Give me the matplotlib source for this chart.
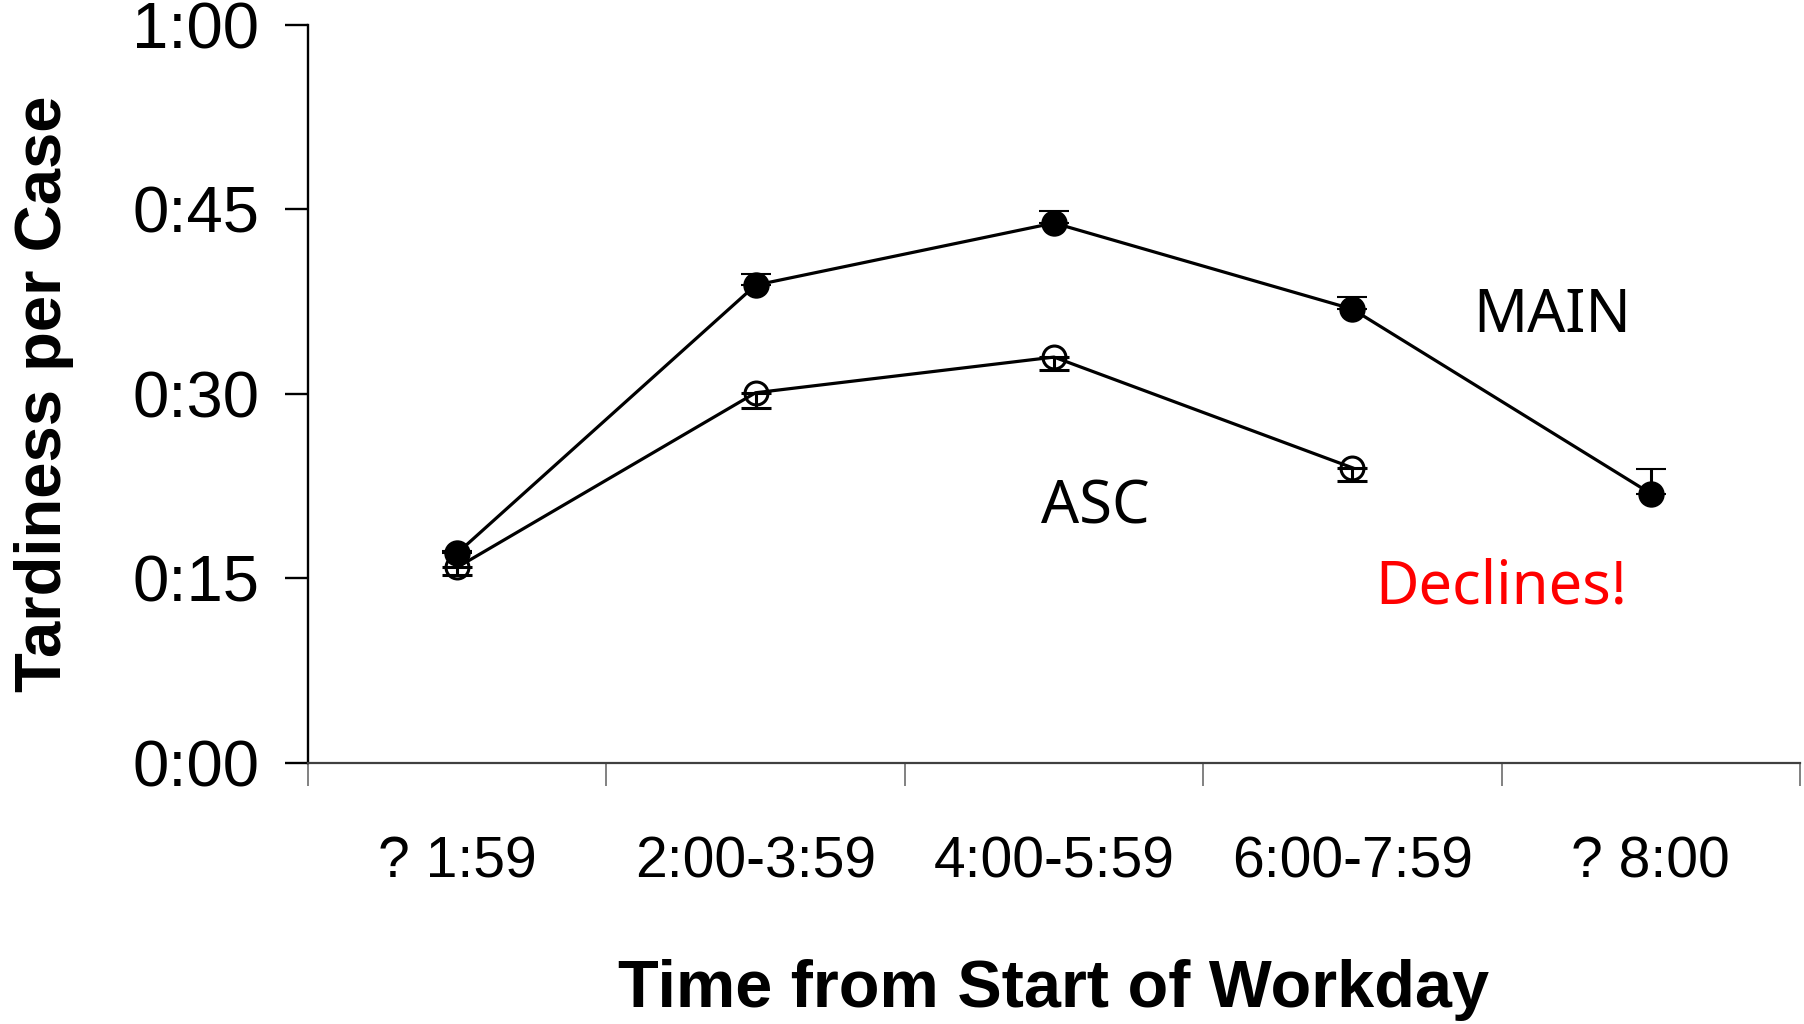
import matplotlib
matplotlib.use("Agg")
import matplotlib.pyplot as plt
from matplotlib.ticker import FuncFormatter, FixedLocator
import numpy as np

categories = ["? 1:59", "2:00-3:59", "4:00-5:59", "6:00-7:59", "? 8:00"]
main_vals = [17.05, 38.85, 43.9, 36.9, 21.9]
main_err_up = [0.15, 0.9, 1.0, 1.0, 2.0]
asc_vals = [15.9, 30.1, 33.0, 24.0]
asc_err_down = [0.65, 1.2, 1.05, 1.1]
y_ticks = [0, 15, 30, 45, 60]

fig = plt.figure(figsize=(18.04, 10.24), dpi=100)
ax = fig.add_axes([0.1707, 0.2549, 0.8271, 0.7207])

x_main = np.arange(len(main_vals))
x_asc = np.arange(len(asc_vals))

ax.errorbar(x_main, main_vals, yerr=[np.zeros(len(main_err_up)), main_err_up],
            fmt='-o', color='black', mfc='black', mec='black', ms=17.5, mew=1.5,
            lw=2.3, elinewidth=2.2, capsize=10.5, capthick=2.5, zorder=3)
ax.errorbar(x_asc, asc_vals, yerr=[asc_err_down, np.zeros(len(asc_err_down))],
            fmt='-o', color='black', mfc='none', mec='black', mew=2.2, ms=16.5,
            lw=2.3, elinewidth=2.2, capsize=10.5, capthick=2.5, zorder=3)

ax.set_xlim(-0.5, len(categories) - 0.5)
ax.set_ylim(0, 60)

ax.spines['top'].set_visible(False)
ax.spines['right'].set_visible(False)
ax.spines['left'].set_linewidth(1.7)
ax.spines['bottom'].set_linewidth(1.6)
ax.spines['bottom'].set_color('#404040')

ax.yaxis.set_major_locator(FixedLocator(y_ticks))
ax.yaxis.set_major_formatter(FuncFormatter(lambda v, p: f"{int(v)//60}:{int(v)%60:02d}"))
ax.tick_params(axis='y', direction='out', length=16.5, width=1.7, pad=18.5, labelsize=47)

ax.set_xticks(np.arange(len(categories)))
ax.set_xticklabels(categories)
ax.tick_params(axis='x', which='major', length=0, pad=52, labelsize=41)
ax.set_xticks(np.arange(len(categories) + 1) - 0.5, minor=True)
ax.tick_params(axis='x', which='minor', direction='out', length=16.5, width=1.3, color='#777777')

for lbl in ax.get_xticklabels() + ax.get_yticklabels():
    lbl.set_family('Liberation Sans')

ax.set_ylabel("Tardiness per Case", fontsize=47, fontweight='bold',
              family='Liberation Sans', labelpad=42)
ax.set_xlabel("Time from Start of Workday", fontsize=48, fontweight='bold',
              family='Liberation Sans', labelpad=50)

ax.text(3.67, 36.3, "MAIN", fontsize=43, family='Noto Sans', ha='center', va='center')
ax.text(2.14, 20.8, "ASC", fontsize=43, family='Noto Sans', ha='center', va='center')
ax.text(3.50, 14.3, "Declines!", fontsize=43, family='Noto Sans', color='#ff0000',
        ha='center', va='center')

fig.savefig("out.png", dpi=100)
